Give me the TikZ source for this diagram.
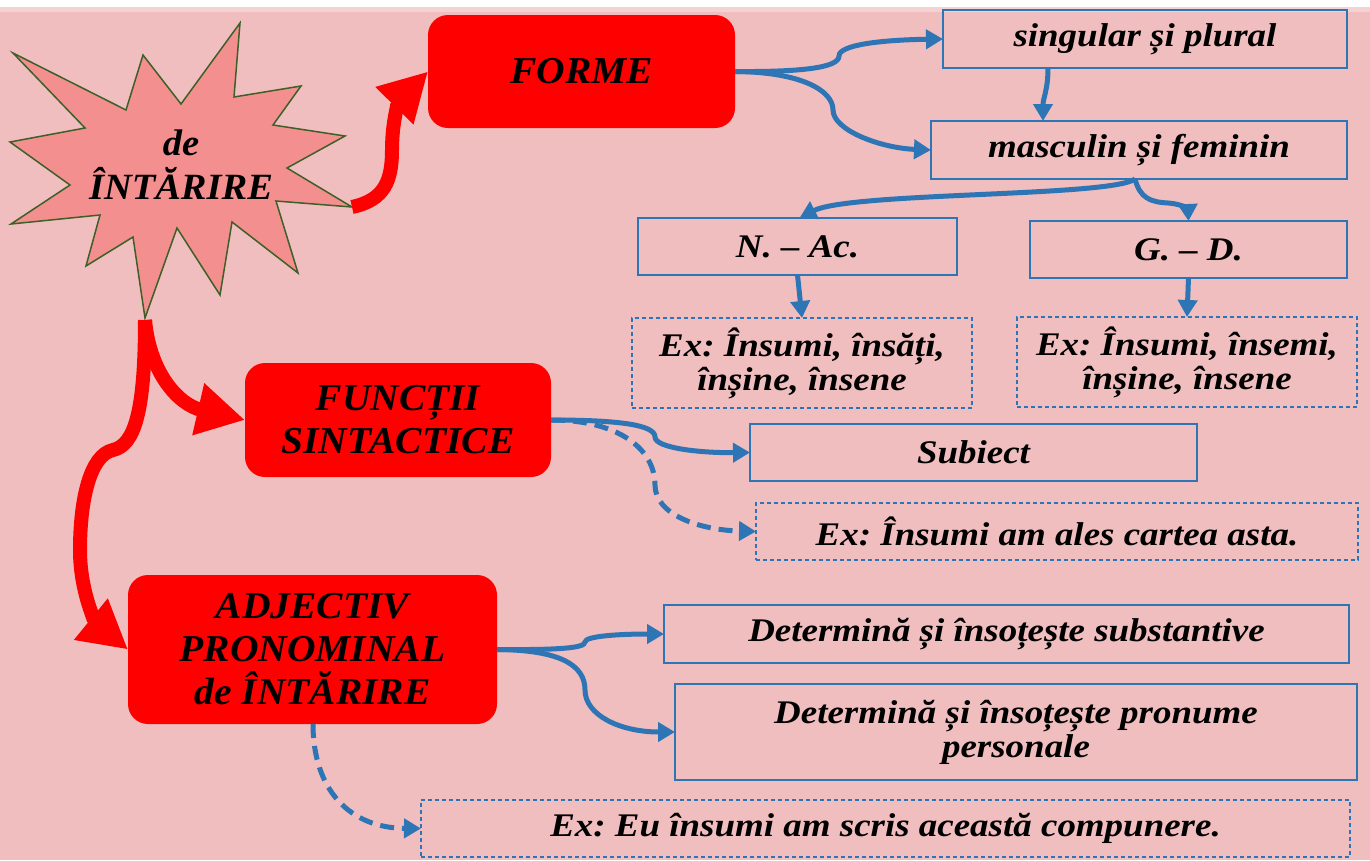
\documentclass[tikz,border=0pt]{standalone}
\usepackage{fontspec}
\setmainfont{Liberation Serif}
\newfontfamily\bigf{Liberation Serif}[FakeStretch=1.04]
\newfontfamily\boxf{Liberation Serif}[FakeStretch=1.12]
\usetikzlibrary{arrows.meta}
\definecolor{bgpink}{RGB}{240,190,190}
\definecolor{starfill}{RGB}{244,143,143}
\definecolor{staredge}{RGB}{60,96,40}
\definecolor{bblue}{RGB}{46,117,182}
\tikzset{
  redbox/.style={fill=red, draw=none, rounded corners=20pt, inner sep=0pt, outer sep=0pt, align=center,
    font=\bigf\bfseries\itshape\fontsize{38}{43}\selectfont},
  bluebox/.style={draw=bblue, line width=1.8pt, inner sep=0pt, outer sep=0pt, align=center,
    font=\boxf\bfseries\itshape\fontsize{33}{34}\selectfont},
  dbox/.style={bluebox, line width=1.3pt, dash pattern=on 4pt off 3pt},
  startext/.style={align=center, inner sep=0pt, font=\bigf\bfseries\itshape\fontsize{37}{44}\selectfont},
  redarrow/.style={draw=red, line width=14pt, -{Triangle[length=48pt,width=50pt]}},
  bluearrow/.style={draw=bblue, line width=5pt, -{Triangle[length=17pt,width=19pt]}},
  dblue/.style={bluearrow, dash pattern=on 14pt off 8pt},
}
\begin{document}
\frenchspacing
\begin{tikzpicture}[x=1pt,y=-1pt]
\useasboundingbox (0,0) rectangle (1370,860);
\fill[bgpink] (0,0) rectangle (1370,860);
\fill[white] (0,0) rectangle (1370,7);
\fill[bgpink!70!white] (0,7) rectangle (1370,12);

% star
\filldraw[fill=starfill, draw=staredge, line width=1.5pt, line join=miter]
 (13,53) -- (126,110) -- (143,55) -- (181,104) -- (240,23) -- (234,97) -- (301,86) -- (273,125)
 -- (345,136) -- (287,168) -- (352,207) -- (276,201) -- (298,273) -- (232,222) -- (220,295)
 -- (177,228) -- (145,318) -- (133,237) -- (86,266) -- (100,215) -- (11,224) -- (70,185)
 -- (10,142) -- (85,128) -- cycle;
\node[startext] (star) at (181,165) {de\\ÎNTĂRIRE};
\coordinate (starR) at (352,207);
\coordinate (starB) at (145,320);

% red boxes
\node[redbox, minimum width=307pt, minimum height=113pt] (forme) at (581.5,71.5) {FORME};
\node[redbox, minimum width=306pt, minimum height=114pt] (funct) at (398,420) {FUNCȚII\\SINTACTICE};
\node[redbox, minimum width=369pt, minimum height=149pt] (adj) at (312.5,649.5) {ADJECTIV\\PRONOMINAL\\de ÎNTĂRIRE};

% blue boxes
\node[bluebox, minimum width=404pt, minimum height=58pt] (sing) at (1145,39) {singular și plural};
\node[bluebox, minimum width=416pt, minimum height=58pt] (masc) at (1139,150) {masculin și feminin};
\node[bluebox, minimum width=319pt, minimum height=57pt] (nac) at (797.5,246.5) {N. – Ac.};
\node[bluebox, minimum width=317pt, minimum height=57pt] (gd) at (1188.5,249.5) {G. – D.};
\node[dbox, minimum width=340pt, minimum height=90pt] (ex1) at (802,363) {Ex: Însumi, însăți,\\înșine, însene};
\node[dbox, minimum width=340pt, minimum height=90pt] (ex2) at (1187,362) {Ex: Însumi, însemi,\\înșine, însene};
\node[bluebox, minimum width=447pt, minimum height=57pt] (subj) at (973.5,452.5) {Subiect};
\node[dbox, minimum width=602pt, minimum height=57pt] (ex3) at (1057,531.5) {Ex: Însumi am ales cartea asta.};
\node[bluebox, minimum width=685pt, minimum height=58pt] (dsub) at (1006.5,634) {Determină și însoțește substantive};
\node[bluebox, minimum width=682pt, minimum height=96pt] (dpron) at (1016,732) {Determină și însoțește pronume\\personale};
\node[dbox, minimum width=929pt, minimum height=57pt] (exeu) at (885.5,828.5) {Ex: Eu însumi am scris această compunere.};

% red arrows
\draw[redarrow] (starR) .. controls (385,200) and (392,180) .. (392,150) .. controls (392,118) and (400,100) .. (forme.west);
\draw[redarrow] (starB) .. controls (150,375) and (180,405) .. (funct.west);
\draw[redarrow] (starB) .. controls (145,410) and (135,445) .. (113,450) .. controls (90,455) and (80,500) .. (80,550) .. controls (80,595) and (98,625) .. (adj.west);

% blue arrows
\draw[bluearrow] (forme.east) .. controls (800,72) and (839,68) .. (839,56) .. controls (839,45) and (880,40) .. (sing.west);
\draw[bluearrow] (forme.east) .. controls (800,72) and (833,90) .. (833,110) .. controls (833,130) and (880,148) .. (masc.west);
\draw[bluearrow] ([xshift=-97pt]sing.south) .. controls (1048,90) and (1043,98) .. ([xshift=-96pt]masc.north);
\draw[bluearrow] ([xshift=-4pt]masc.south) .. controls (1110,197) and (850,192) .. ([xshift=2pt]nac.north);
\draw[bluearrow] ([xshift=-4pt]masc.south) .. controls (1140,198) and (1150,202) .. (1168,203) .. controls (1183,204) and (1188,210) .. (gd.north);
\draw[bluearrow] (nac.south) -- (ex1.north);
\draw[bluearrow] (gd.south) -- (ex2.north);
\draw[bluearrow] (funct.east) .. controls (620,420) and (655,425) .. (655,437) .. controls (655,448) and (700,453) .. (subj.west);
\draw[dblue] (funct.east) .. controls (620,420) and (655,450) .. (655,485) .. controls (655,515) and (700,530) .. (ex3.west);
\draw[bluearrow] (adj.east) .. controls (560,650) and (585,648) .. (585,642) .. controls (585,636) and (620,634) .. (dsub.west);
\draw[bluearrow] (adj.east) .. controls (560,650) and (585,665) .. (585,690) .. controls (585,715) and (620,732) .. (dpron.west);
\draw[dblue] ([xshift=0.5pt]adj.south) .. controls (313,790) and (350,828) .. (exeu.west);
\end{tikzpicture}
\end{document}
